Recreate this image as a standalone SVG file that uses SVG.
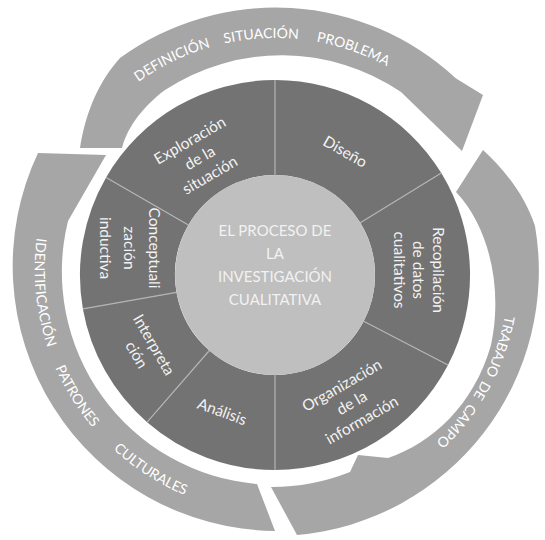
<svg xmlns="http://www.w3.org/2000/svg" width="545" height="540" viewBox="0 0 545 540">
<style>
.arrow{fill:#a6a6a6}
.atext{font-family:Lato,"Liberation Sans",sans-serif;font-size:14px;fill:#ffffff;text-anchor:middle}
.seg{fill:#737373}
.div{stroke:#b4b4b4;stroke-width:1.2;fill:none}
.lbl{font-family:Lato,"Liberation Sans",sans-serif;font-size:15.5px;fill:#f2f2f2;text-anchor:middle}
.ctext{font-family:Lato,"Liberation Sans",sans-serif;font-size:15px;fill:#f2f2f2;text-anchor:middle}
</style>
<defs>
<path id="tp-top" d="M 41,272 A 234 234 0 0 1 509,272"/>
<path id="tp-right" d="M 275,38 A 234 234 0 0 1 275,506"/>
<path id="tp-left" d="M 118.2,85.1 A 245 245 0 0 0 358.5,501.3"/>
</defs>
<rect width="545" height="540" fill="#ffffff"/>
<g id="arrow-left">
<path class="arrow" d="M 275,531 A 265 265 0 0 1 38,153 L 106,155 L 68,221 A 213 213 0 0 0 257,484 Z"/>
<text class="atext"><textPath href="#tp-left" startOffset="232.5">IDENTIFICACIÓN</textPath></text>
<text class="atext"><textPath href="#tp-left" startOffset="345">PATRONES</textPath></text>
<text class="atext"><textPath href="#tp-left" startOffset="453">CULTURALES</textPath></text>
</g>
<g id="arrow-right">
<path class="arrow" d="M 483,150 C 503,168 525,195 535,226 A 265 265 0 0 1 297,535 L 271,487 A 213 213 0 0 0 350,472 L 358,455 L 388,458 C 432,443 474,405 491,345 C 503,290 490,228 456,192 Z"/>
<text class="atext"><textPath href="#tp-right" startOffset="442.3">TRABAJO</textPath></text>
<text class="atext"><textPath href="#tp-right" startOffset="489.3">DE</textPath></text>
<text class="atext"><textPath href="#tp-right" startOffset="532">CAMPO</textPath></text>
</g>
<g id="arrow-top">
<path class="arrow" d="M 80,148 C 86,110 100,80 120,58 A 265 265 0 0 1 455.7,78.2 L 483,95 L 462,151 L 401,92 A 213 213 0 0 0 165,90 C 145,105 128,125 122,148 Z"/>
<text class="atext"><textPath href="#tp-top" startOffset="261.8">DEFINICIÓN</textPath></text>
<text class="atext"><textPath href="#tp-top" startOffset="353.7">SITUACIÓN</textPath></text>
<text class="atext"><textPath href="#tp-top" startOffset="446.4">PROBLEMA</textPath></text>
</g>
<g id="seg-diseno">
<path class="seg" d="M 275,80 A 195 195 0 0 1 441.3,173.1 L 360.3,222.7 A 100 100 0 0 0 275,175 Z"/>
<text class="lbl" transform="translate(345,152) rotate(30)" y="5">Diseño</text>
</g>
<g id="seg-recopilacion">
<path class="seg" d="M 441.3,173.1 A 195 195 0 0 1 448,365 L 363.7,321.2 A 100 100 0 0 0 360.3,222.7 Z"/>
<g class="lbl" transform="translate(418,270) rotate(90)">
<text x="0" y="-14.5">Recopilación</text>
<text x="0" y="5">de datos</text>
<text x="0" y="24.5">cualitativos</text>
</g>
</g>
<g id="seg-organizacion">
<path class="seg" d="M 448,365 A 195 195 0 0 1 275,470 L 275,375 A 100 100 0 0 0 363.7,321.2 Z"/>
<g class="lbl" transform="translate(352,403) rotate(-30)">
<text x="0" y="-15">Organización</text>
<text x="0" y="5">de la</text>
<text x="0" y="25">información</text>
</g>
</g>
<g id="seg-analisis">
<path class="seg" d="M 275,470 A 195 195 0 0 1 147.1,422.2 L 209.4,350.5 A 100 100 0 0 0 275,375 Z"/>
<text class="lbl" transform="translate(222,412) rotate(20)" y="5">Análisis</text>
</g>
<g id="seg-interpretacion">
<path class="seg" d="M 147.1,422.2 A 195 195 0 0 1 82.9,308.9 L 176.5,292.4 A 100 100 0 0 0 209.4,350.5 Z"/>
<g class="lbl" transform="translate(145,350) rotate(60)">
<text x="0" y="-5">Interpreta</text>
<text x="0" y="15">ción</text>
</g>
</g>
<g id="seg-conceptualizacion">
<path class="seg" d="M 82.9,308.9 A 195 195 0 0 1 106.1,177.5 L 188.4,225 A 100 100 0 0 0 176.5,292.4 Z"/>
<g class="lbl" transform="translate(129,248) rotate(90)">
<text x="0" y="-19.5">Conceptuali</text>
<text x="0" y="5">zación</text>
<text x="0" y="29.5">inductiva</text>
</g>
</g>
<g id="seg-exploracion">
<path class="seg" d="M 106.1,177.5 A 195 195 0 0 1 275,80 L 275,175 A 100 100 0 0 0 188.4,225 Z"/>
<g class="lbl" transform="translate(200,158) rotate(-30)">
<text x="0" y="-15">Exploración</text>
<text x="0" y="5">de la</text>
<text x="0" y="25">situación</text>
</g>
</g>
<g id="connectors">
<line class="div" x1="275" y1="175" x2="275" y2="80"/>
<line class="div" x1="360.3" y1="222.7" x2="441.3" y2="173.1"/>
<line class="div" x1="363.7" y1="321.2" x2="448" y2="365"/>
<line class="div" x1="275" y1="375" x2="275" y2="470"/>
<line class="div" x1="209.4" y1="350.5" x2="147.1" y2="422.2"/>
<line class="div" x1="176.5" y1="292.4" x2="82.9" y2="308.9"/>
<line class="div" x1="188.4" y1="225" x2="106.1" y2="177.5"/>
</g>
<g id="center">
<circle cx="275" cy="275" r="100" fill="#bfbfbf"/>
<text class="ctext" x="275" y="236">EL PROCESO DE</text>
<text class="ctext" x="275" y="259">LA</text>
<text class="ctext" x="275" y="282">INVESTIGACIÓN</text>
<text class="ctext" x="275" y="305">CUALITATIVA</text>
</g>
</svg>
